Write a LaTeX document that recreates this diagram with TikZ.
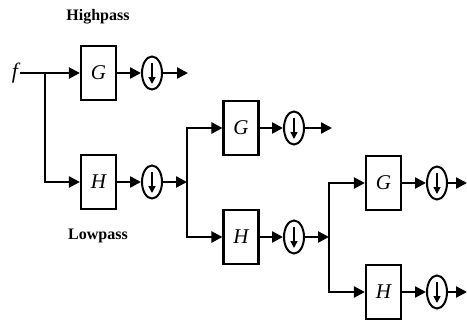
\documentclass[tikz,border=0pt]{standalone}
\usepackage{fontspec}
\setmainfont{Liberation Serif}
\usetikzlibrary{arrows.meta,shapes.geometric}
\begin{document}
\begin{tikzpicture}[x=1pt,y=-1pt,
  line width=2.4pt,
  arr/.style={-{Triangle[length=11pt,width=11pt]}},
  blk/.style={draw,minimum width=35pt,minimum height=54pt,inner sep=0pt,line width=2.2pt,font=\fontsize{21}{23}\selectfont\itshape},
  dwn/.style={draw,ellipse,minimum width=20pt,minimum height=33pt,inner sep=0pt,line width=2pt,
    path picture={\draw[line width=1.4pt,-{Triangle[length=7pt,width=7pt]}]
      ([yshift=10pt]path picture bounding box.center) -- ([yshift=-11pt]path picture bounding box.center);}},
  lbl/.style={font=\fontsize{16}{18}\selectfont\bfseries}]
\useasboundingbox (0,0) rectangle (467,324);
% level 1
\node[font=\fontsize{22}{24}\selectfont\itshape,inner sep=1pt] (f) at (15,73) {f};
\coordinate (b1) at (45,73);
\node[blk] (G1) at (98.5,73) {G};
\node[blk] (H1) at (98.5,182) {H};
\node[dwn] (dG1) at (152,73) {};
\node[dwn] (dH1) at (152,182) {};
\node[lbl] (hp) at (98,17) {Highpass};
\node[lbl] (lp) at (98,236) {Lowpass};
\coordinate (oG1) at (188,73);
\coordinate (b2) at (187,182);
\draw (f.east) -- (b1);
\draw[arr] (b1) -- (G1.west);
\draw[arr] (b1) |- (H1.west);
\draw[arr] (G1) -- (dG1);
\draw[arr] (dG1) -- (oG1);
\draw[arr] (H1) -- (dH1);
\draw[arr] (dH1) -- (b2);
% level 2
\node[blk] (G2) at (241,128) {G};
\node[blk] (H2) at (241,237) {H};
\node[dwn] (dG2) at (294,128) {};
\node[dwn] (dH2) at (294,237) {};
\coordinate (oG2) at (332,128);
\coordinate (b3) at (329,237);
\draw[arr] (b2) |- (G2.west);
\draw[arr] (b2) |- (H2.west);
\draw[arr] (G2) -- (dG2);
\draw[arr] (dG2) -- (oG2);
\draw[arr] (H2) -- (dH2);
\draw[arr] (dH2) -- (b3);
% level 3
\node[blk] (G3) at (383.5,183) {G};
\node[blk] (H3) at (383.5,292) {H};
\node[dwn] (dG3) at (437,183) {};
\node[dwn] (dH3) at (437,292) {};
\coordinate (oG3) at (467,183);
\coordinate (oH3) at (467,292);
\draw[arr] (b3) |- (G3.west);
\draw[arr] (b3) |- (H3.west);
\draw[arr] (G3) -- (dG3);
\draw[arr] (dG3) -- (oG3);
\draw[arr] (H3) -- (dH3);
\draw[arr] (dH3) -- (oH3);
\end{tikzpicture}
\end{document}
